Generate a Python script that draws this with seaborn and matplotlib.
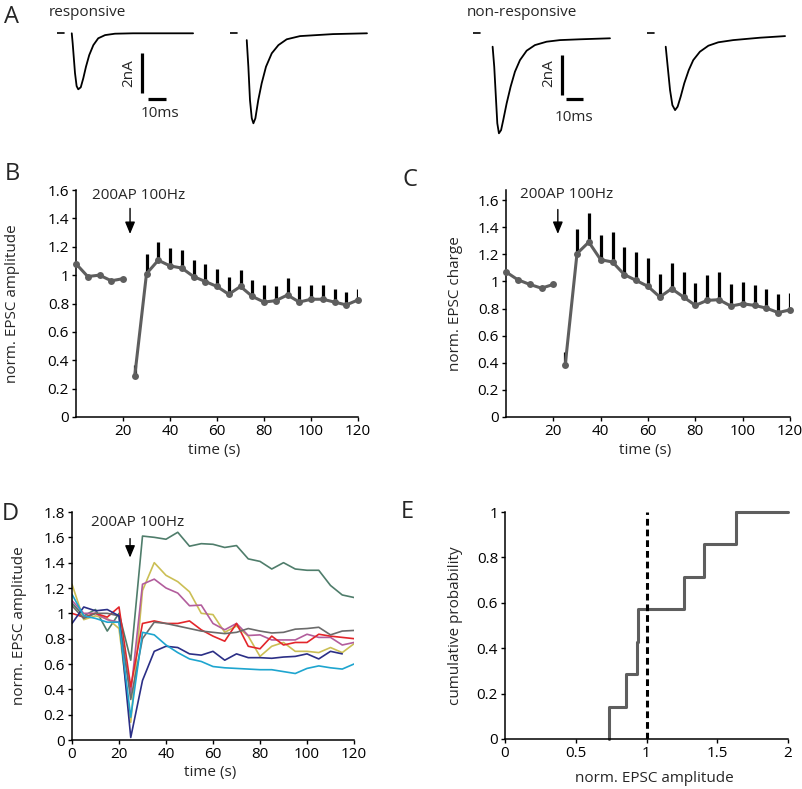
import numpy as np
import pandas as pd
import seaborn as sns
import matplotlib.pyplot as plt
from matplotlib.ticker import FuncFormatter

# ---------------- data ----------------
# A: example EPSC traces, time (ms) and current (nA)
resp1_t = [8.2, 8.7, 10.0, 10.9, 11.8, 13.2, 14.6, 16.1, 17.9, 20.2, 22.9, 26.7, 32.2, 42.2, 75.6]
resp1_i = [0, -0.49, -1.99, -2.64, -2.8, -2.7, -2.25, -1.67, -1.09, -0.59, -0.25, -0.09, -0.02, 0, 0]
resp2_t = [9.3, 10.2, 11.1, 12.1, 13.0, 14.1, 15.7, 17.6, 20.0, 23.2, 26.9, 31.5, 38.9, 57.2, 76.1]
resp2_i = [-0.34, -1.67, -3.34, -4.25, -4.5, -4.25, -3.34, -2.5, -1.67, -1.0, -0.59, -0.3, -0.14, -0.04, 0]
nonresp1_t = [10.9, 11.8, 12.8, 13.5, 14.4, 15.6, 16.8, 18.7, 20.9, 23.3, 26.1, 29.8, 34.4, 40.9, 48.3, 59.4, 76.1]
nonresp1_i = [-0.67, -1.67, -3.34, -4.5, -5.0, -4.84, -4.34, -3.5, -2.67, -1.92, -1.34, -0.87, -0.59, -0.42, -0.34, -0.3, -0.25]
nonresp2_t = [10.4, 11.5, 12.8, 14.1, 15.6, 17.0, 18.7, 20.7, 23.2, 25.7, 29.4, 34.1, 39.6, 47.9, 62.8, 76.7]
nonresp2_i = [-0.67, -1.67, -2.84, -3.59, -3.84, -3.67, -3.17, -2.5, -1.84, -1.34, -0.92, -0.62, -0.45, -0.34, -0.22, -0.14]
stim_t = [0, 4]
stim_i = [0, 0]

# B / C: time course (s)
t_pre = [0, 5, 10, 15, 20]
t_post = [25, 30, 35, 40, 45, 50, 55, 60, 65, 70, 75, 80, 85, 90, 95, 100, 105, 110, 115, 120]

amp_pre = [1.08, 0.99, 1.0, 0.96, 0.975]
amp_post = [0.29, 1.01, 1.105, 1.065, 1.05, 0.99, 0.955, 0.92, 0.865, 0.92, 0.85, 0.81,
            0.82, 0.86, 0.81, 0.83, 0.83, 0.81, 0.79, 0.825]
amp_top = [0.365, 1.15, 1.235, 1.19, 1.18, 1.11, 1.075, 1.04, 0.99, 1.035, 0.965, 0.93,
           0.925, 0.98, 0.92, 0.93, 0.93, 0.9, 0.88, 0.9]

chg_pre = [1.07, 1.012, 0.978, 0.95, 0.978]
chg_post = [0.38, 1.205, 1.29, 1.16, 1.143, 1.05, 1.007, 0.963, 0.885, 0.946, 0.885, 0.823,
            0.86, 0.865, 0.818, 0.835, 0.823, 0.803, 0.77, 0.79]
chg_top = [0.478, 1.39, 1.505, 1.34, 1.364, 1.253, 1.216, 1.175, 1.052, 1.135, 1.07, 0.988,
           1.044, 1.07, 0.978, 0.995, 0.975, 0.946, 0.91, 0.914]

# D: individual cells
t_cells = [0, 5, 10, 15, 20, 25, 30, 35, 40, 45, 50, 55, 60, 65, 70, 75, 80, 85, 90, 95,
           100, 105, 110, 115, 120]
cell_green = [1.08, 0.98, 1.03, 0.86, 1.0, 0.63, 1.61, 1.60, 1.585, 1.64, 1.53, 1.55, 1.545,
              1.52, 1.535, 1.43, 1.41, 1.35, 1.40, 1.35, 1.34, 1.34, 1.22, 1.145, 1.125]
cell_yellow = [1.23, 0.95, 0.98, 0.96, 0.88, 0.14, 1.18, 1.40, 1.30, 1.25, 1.17, 1.0, 0.99,
               0.85, 0.90, 0.82, 0.66, 0.74, 0.77, 0.70, 0.70, 0.69, 0.73, 0.69, 0.76]
cell_magenta = [1.1, 1.0, 1.0, 0.95, 0.93, 0.37, 1.23, 1.27, 1.20, 1.16, 1.06, 1.065, 0.92,
                0.87, 0.92, 0.825, 0.83, 0.79, 0.79, 0.79, 0.835, 0.81, 0.81, 0.75, 0.77]
cell_red = [1.0, 0.97, 1.0, 0.97, 1.05, 0.42, 0.92, 0.94, 0.92, 0.92, 0.94, 0.87, 0.82, 0.78,
            0.92, 0.74, 0.72, 0.82, 0.75, 0.77, 0.77, 0.835, 0.82, 0.81, 0.80]
cell_grey = [1.06, 0.96, 1.0, 1.0, 0.98, 0.32, 0.80, 0.93, 0.92, 0.90, 0.88, 0.86, 0.85, 0.84,
             0.85, 0.88, 0.86, 0.845, 0.85, 0.875, 0.88, 0.89, 0.83, 0.86, 0.865]
cell_blue = [0.92, 1.05, 1.02, 1.03, 0.98, 0.02, 0.47, 0.70, 0.74, 0.73, 0.68, 0.67, 0.70,
             0.63, 0.68, 0.65, 0.65, 0.645, 0.655, 0.66, 0.68, 0.64, 0.70, 0.68, np.nan]
cell_cyan = [1.15, 0.98, 0.96, 0.93, 0.93, 0.18, 0.85, 0.83, 0.75, 0.69, 0.64, 0.62, 0.58,
             0.57, 0.565, 0.56, 0.555, 0.555, 0.54, 0.525, 0.565, 0.585, 0.57, 0.56, 0.60]
cell_series = [cell_green, cell_yellow, cell_magenta, cell_red, cell_grey, cell_blue, cell_cyan]
cell_colors = ['#4f7d6b', '#cbbf55', '#b25d9c', '#e3262b', '#6b6b6b', '#2b2f86', '#1ea5cf']

# E: amplitude of each cell after stimulation
cell_amps = [0.735, 0.855, 0.935, 0.94, 1.265, 1.405, 1.63]

# ---------------- style ----------------
sns.set_theme(style='ticks')
plt.rcParams['font.family'] = ['Open Sans', 'DejaVu Sans']
FS = 11
plt.rcParams['font.size'] = FS
GREY = '#5e5e5e'

fig = plt.figure(figsize=(8.02, 7.89), dpi=100)


def fx(px):
    return px / 802


def fy(py):
    return 1 - py / 789


def style_axes(ax):
    sns.despine(ax=ax)
    for s in ['left', 'bottom']:
        ax.spines[s].set_linewidth(1.1)
        ax.spines[s].set_color('black')
    ax.tick_params(length=3, width=1, labelsize=FS, pad=2, colors='black')
    fmt = FuncFormatter(lambda v, p: f'{v:g}')
    ax.xaxis.set_major_formatter(fmt)
    ax.yaxis.set_major_formatter(fmt)


# ---------------- A: traces ----------------
trace_sets = [(57, resp1_t, resp1_i), (230, resp2_t, resp2_i),
              (473, nonresp1_t, nonresp1_i), (647, nonresp2_t, nonresp2_i)]
trace_axes = []
for left_px, tt, ii in trace_sets:
    ax = fig.add_axes([fx(left_px), fy(143.3), 144 / 802, 120 / 789])
    sns.lineplot(x=stim_t, y=stim_i, ax=ax, color='black', lw=1.2)
    sns.lineplot(x=tt, y=ii, ax=ax, color='black', lw=1.3)
    ax.set_xlim(0, 80)
    ax.set_ylim(-5.5, 0.5)
    ax.axis('off')
    trace_axes.append(ax)

# scale bars
for ax, xv, yv, xh, yh, xl, xt, yt in [
        (trace_axes[0], 47.2, (-0.99, -2.99), (50.6, 60.6), -3.29, 40.0, 57.2, -4.0),
        (trace_axes[2], 49.6, (-1.1, -3.1), (51.5, 61.0), -3.3, 42.0, 56.1, -4.2)]:
    ax.plot([xv, xv], list(yv), color='black', lw=2.3, solid_capstyle='butt')
    ax.plot(list(xh), [yh, yh], color='black', lw=2.3, solid_capstyle='butt')
    ax.text(xl, -2.0, '2nA', rotation=90, ha='center', va='center', fontsize=FS)
    ax.text(xt, yt, '10ms', ha='center', va='center', fontsize=FS)

fig.text(fx(49), fy(13), 'responsive', ha='left', va='center', fontsize=FS)
fig.text(fx(467), fy(13), 'non-responsive', ha='left', va='center', fontsize=FS)


# ---------------- B / C ----------------
def time_course(ax, pre, post, top, ylim, ylabel, arrow_x, arrow_y, text_xy, label_x):
    ax.errorbar(t_post, post, yerr=[np.zeros(len(post)), np.array(top) - np.array(post)],
                fmt='none', ecolor='black', elinewidth=2.3, capsize=0, zorder=1)
    sns.lineplot(x=t_pre, y=pre, ax=ax, color=GREY, lw=2.2, marker='o', markersize=5,
                 markeredgewidth=0, clip_on=False, zorder=3)
    sns.lineplot(x=t_post, y=post, ax=ax, color=GREY, lw=2.2, marker='o', markersize=5,
                 markeredgewidth=0, clip_on=False, zorder=3)
    ax.set_xlim(0, 120)
    ax.set_ylim(*ylim)
    ax.set_xticks([20, 40, 60, 80, 100, 120])
    ax.set_yticks([0, 0.2, 0.4, 0.6, 0.8, 1.0, 1.2, 1.4, 1.6])
    style_axes(ax)
    ax.set_xlabel('time (s)', fontsize=FS)
    ax.set_ylabel(ylabel, fontsize=FS)
    ax.yaxis.set_label_coords(label_x, 0.5)
    ax.xaxis.set_label_coords(0.49, -0.115)
    ax.text(text_xy[0], text_xy[1], '200AP 100Hz', ha='center', va='center', fontsize=FS)
    ax.annotate('', xy=(arrow_x, arrow_y[1]), xytext=(arrow_x, arrow_y[0]),
                arrowprops=dict(arrowstyle='-|>,head_length=0.6,head_width=0.25',
                                color='black', lw=1.0, mutation_scale=12,
                                shrinkA=0, shrinkB=0))


axB = fig.add_axes([fx(76), fy(417), 282 / 802, 227 / 789])
time_course(axB, amp_pre, amp_post, amp_top, (0, 1.6), 'norm. EPSC amplitude',
            23, (1.47, 1.29), (26.8, 1.563), -0.2)

axC = fig.add_axes([fx(506), fy(417), 284 / 802, 227 / 789])
time_course(axC, chg_pre, chg_post, chg_top, (0, 1.674), 'norm. EPSC charge',
            21.9, (1.53, 1.35), (25.7, 1.64), -0.15)

# ---------------- D ----------------
axD = fig.add_axes([fx(72), fy(740), 282 / 802, 228 / 789])
for vals, col in zip(cell_series, cell_colors):
    sns.lineplot(x=t_cells, y=vals, ax=axD, color=col, lw=1.2)
axD.set_xlim(0, 120)
axD.set_ylim(0, 1.8)
axD.set_xticks([0, 20, 40, 60, 80, 100, 120])
axD.set_yticks([0, 0.2, 0.4, 0.6, 0.8, 1.0, 1.2, 1.4, 1.6, 1.8])
style_axes(axD)
axD.set_xlabel('time (s)', fontsize=FS)
axD.set_ylabel('norm. EPSC amplitude', fontsize=FS)
axD.yaxis.set_label_coords(-0.16, 0.5)
axD.xaxis.set_label_coords(0.49, -0.11)
axD.text(28.1, 1.72, '200AP 100Hz', ha='center', va='center', fontsize=FS)
axD.annotate('', xy=(24.7, 1.44), xytext=(24.7, 1.59),
             arrowprops=dict(arrowstyle='-|>,head_length=0.6,head_width=0.25',
                             color='black', lw=1.0, mutation_scale=12,
                             shrinkA=0, shrinkB=0))

# ---------------- E ----------------
axE = fig.add_axes([fx(505), fy(739), 283 / 802, 227 / 789])
sns.ecdfplot(x=cell_amps, ax=axE, color=GREY, lw=2.2, clip_on=False)
axE.set_xlim(0, 2)
axE.set_ylim(0, 1)
axE.plot([max(cell_amps), axE.get_xlim()[1]], [1, 1], color=GREY, lw=2.2, clip_on=False)
axE.axvline(1.0, color='black', lw=2.2, ls=(0, (2.2, 1.3)))
axE.set_xticks([0, 0.5, 1, 1.5, 2])
axE.set_yticks([0, 0.2, 0.4, 0.6, 0.8, 1.0])
style_axes(axE)
axE.set_xlabel('norm. EPSC amplitude', fontsize=FS)
axE.set_ylabel('cumulative probability', fontsize=FS)
axE.yaxis.set_label_coords(-0.15, 0.5)
axE.xaxis.set_label_coords(0.527, -0.14)

# ---------------- panel letters ----------------
for letter, (px, py) in {'A': (11, 17), 'B': (12, 174), 'C': (410, 180),
                         'D': (10, 514), 'E': (407, 512)}.items():
    fig.text(fx(px), fy(py), letter, ha='center', va='center', fontsize=17)

fig.savefig('out.png', dpi=100)
